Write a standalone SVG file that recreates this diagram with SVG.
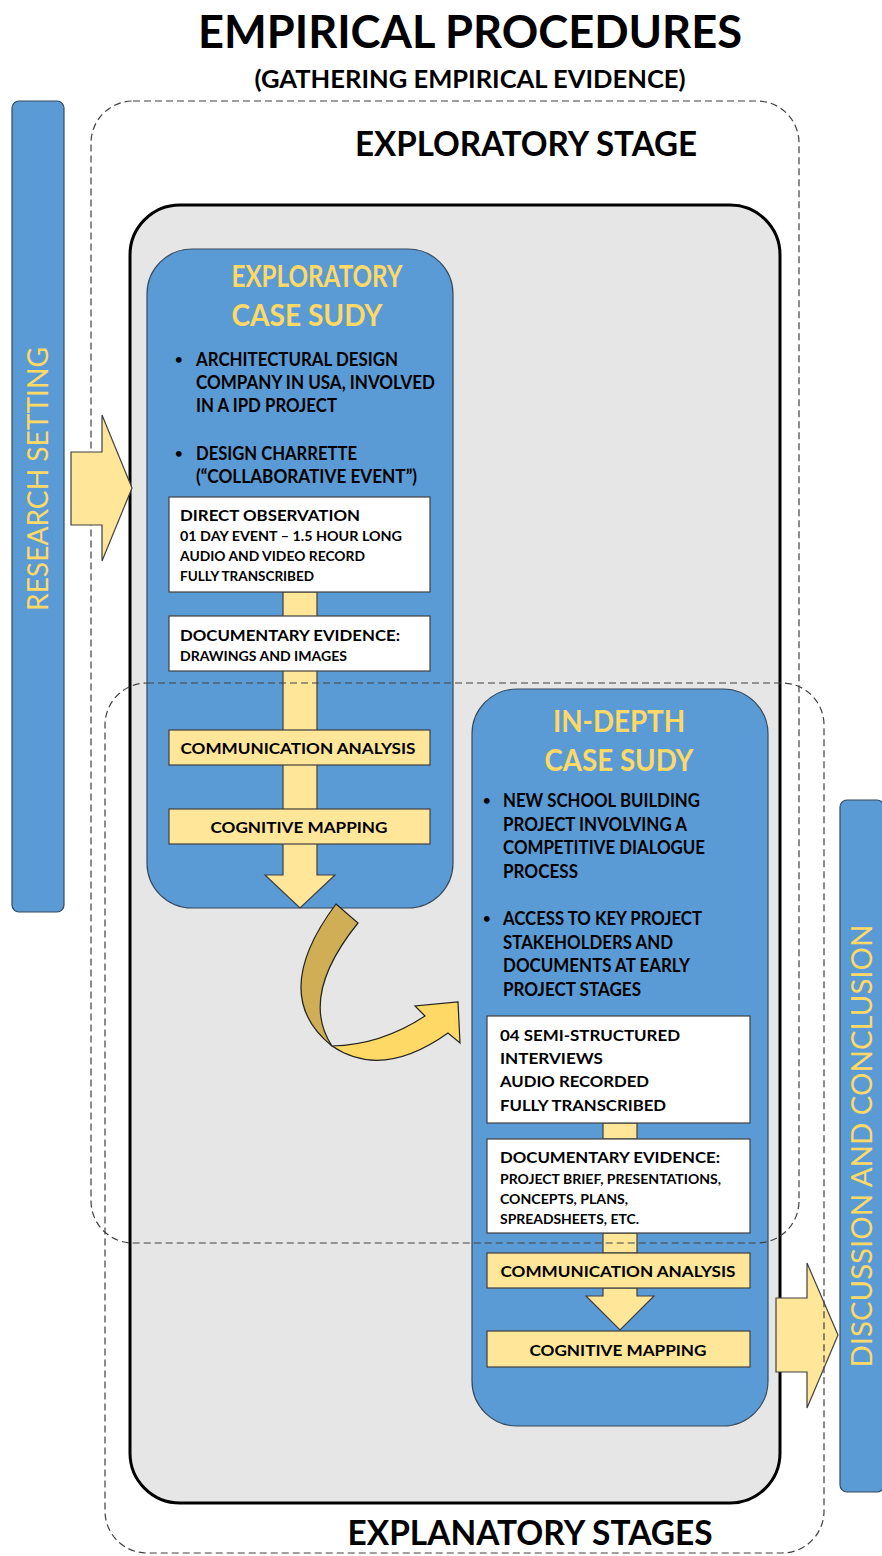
<svg xmlns="http://www.w3.org/2000/svg" width="882" height="1556" viewBox="0 0 882 1556">
  <defs>
    <style>
      text { font-family: Lato, "Liberation Sans", sans-serif; font-weight: bold; fill: #000; }
      .title { font-size: 46px; }
      .sub { font-size: 25px; }
      .stage { font-size: 35px; }
      .case { font-size: 30px; fill: #FFD966; }
      .bul { font-size: 18px; }
      .dot { font-size: 13px; }
      .hd { font-size: 16px; }
      .sm { font-size: 13.5px; }
      .side { font-size: 28px; font-weight: normal; fill: #FFD966; }
      .blue { fill: #5B9BD5; stroke: #34495E; stroke-width: 1.2; }
      .white { fill: #FFFFFF; stroke: #404040; stroke-width: 1.2; }
      .yel { fill: #FFE699; stroke: #404040; stroke-width: 1.2; }
      .dash { fill: none; stroke: #404040; stroke-width: 1.2; stroke-dasharray: 7 4; }
    </style>
  </defs>

  <rect width="882" height="1556" fill="#FFFFFF"/>

  <!-- headings -->
  <g id="heading">
    <text class="title" x="470" y="48" text-anchor="middle" textLength="544" lengthAdjust="spacingAndGlyphs">EMPIRICAL PROCEDURES</text>
    <text class="sub" x="470" y="88" text-anchor="middle" textLength="431" lengthAdjust="spacingAndGlyphs">(GATHERING EMPIRICAL EVIDENCE)</text>
  </g>

  <!-- side bars -->
  <g id="research-setting">
    <rect class="blue" x="12" y="101" width="52" height="811" rx="7"/>
    <text class="side" transform="translate(48,479) rotate(-90)" text-anchor="middle" textLength="264" lengthAdjust="spacingAndGlyphs">RESEARCH SETTING</text>
  </g>
  <g id="discussion-conclusion">
    <rect class="blue" x="840" y="800" width="44" height="692" rx="7"/>
    <text class="side" transform="translate(872,1146) rotate(-90)" text-anchor="middle" textLength="443" lengthAdjust="spacingAndGlyphs">DISCUSSION AND CONCLUSION</text>
  </g>

  <!-- stage container -->
  <g id="stage-container">
    <rect x="130" y="205" width="650" height="1298" rx="50" fill="#E6E6E6" stroke="#000" stroke-width="3"/>
  </g>

  <!-- exploratory case study -->
  <g id="exploratory-case">
    <rect class="blue" x="147" y="249" width="306" height="659" rx="45"/>
    <text class="case" x="317" y="287" text-anchor="middle" textLength="171" lengthAdjust="spacingAndGlyphs">EXPLORATORY</text>
    <text class="case" x="307" y="326" text-anchor="middle" textLength="151" lengthAdjust="spacingAndGlyphs">CASE SUDY</text>
    <text class="dot" x="175" y="364">•</text>
    <text class="bul" x="196" y="366" textLength="202" lengthAdjust="spacingAndGlyphs">ARCHITECTURAL DESIGN</text>
    <text class="bul" x="196" y="389" textLength="239" lengthAdjust="spacingAndGlyphs">COMPANY IN USA, INVOLVED</text>
    <text class="bul" x="196" y="412" textLength="141" lengthAdjust="spacingAndGlyphs">IN A IPD PROJECT</text>
    <text class="dot" x="175" y="458">•</text>
    <text class="bul" x="196" y="460" textLength="161" lengthAdjust="spacingAndGlyphs">DESIGN CHARRETTE</text>
    <text class="bul" x="196" y="483" textLength="221" lengthAdjust="spacingAndGlyphs">(“COLLABORATIVE EVENT”)</text>
  </g>

  <!-- in-depth case study -->
  <g id="in-depth-case">
    <rect class="blue" x="472" y="689" width="296" height="737" rx="45"/>
    <text class="case" x="619" y="732" text-anchor="middle" textLength="132" lengthAdjust="spacingAndGlyphs">IN-DEPTH</text>
    <text class="case" x="619" y="771" text-anchor="middle" textLength="149" lengthAdjust="spacingAndGlyphs">CASE SUDY</text>
    <text class="dot" x="483" y="805">•</text>
    <text class="bul" x="503" y="807" textLength="197" lengthAdjust="spacingAndGlyphs">NEW SCHOOL BUILDING</text>
    <text class="bul" x="503" y="831" textLength="184" lengthAdjust="spacingAndGlyphs">PROJECT INVOLVING A</text>
    <text class="bul" x="503" y="854" textLength="202" lengthAdjust="spacingAndGlyphs">COMPETITIVE DIALOGUE</text>
    <text class="bul" x="503" y="878" textLength="75" lengthAdjust="spacingAndGlyphs">PROCESS</text>
    <text class="dot" x="483" y="923">•</text>
    <text class="bul" x="503" y="925" textLength="199" lengthAdjust="spacingAndGlyphs">ACCESS TO KEY PROJECT</text>
    <text class="bul" x="503" y="949" textLength="170" lengthAdjust="spacingAndGlyphs">STAKEHOLDERS AND</text>
    <text class="bul" x="503" y="972" textLength="187" lengthAdjust="spacingAndGlyphs">DOCUMENTS AT EARLY</text>
    <text class="bul" x="503" y="996" textLength="138" lengthAdjust="spacingAndGlyphs">PROJECT STAGES</text>
  </g>

  <!-- flow connectors -->
  <g id="connectors">
    <!-- exploratory flow: shaft and head -->
    <path class="yel" d="M283,592 L317,592 L317,875 L335,875 L300,908 L265,875 L283,875 Z"/>
    <!-- in-depth flow -->
    <rect class="yel" x="603" y="1123" width="34" height="16"/>
    <rect class="yel" x="603" y="1233" width="34" height="20"/>
    <path class="yel" d="M603,1288 L637,1288 L637,1296 L654,1296 L620,1330 L586,1296 L603,1296 Z"/>
    <!-- twisted transition arrow between case studies -->
    <path d="M336,904 L358,923 Q299,996 332,1046 Q268,995 336,904 Z" fill="#CFAE55" stroke="#222" stroke-width="1.2"/>
    <path d="M332,1046 Q381,1045 425,1016 L415,1006 L458,1002 L460,1043 L448,1033 Q382,1080 332,1046 Z" fill="#FFD966" stroke="#222" stroke-width="1.2"/>
    <!-- into discussion -->
    <path class="yel" d="M776,1298 L807,1298 L807,1263 L838,1335 L807,1408 L807,1372 L776,1372 Z"/>
  </g>

  <!-- exploratory evidence boxes -->
  <g id="direct-observation">
    <rect class="white" x="169" y="497" width="261" height="95"/>
    <text class="hd" x="180" y="521" textLength="180" lengthAdjust="spacingAndGlyphs">DIRECT OBSERVATION</text>
    <text class="sm" x="180" y="541" textLength="222" lengthAdjust="spacingAndGlyphs">01 DAY EVENT – 1.5 HOUR LONG</text>
    <text class="sm" x="180" y="561" textLength="185" lengthAdjust="spacingAndGlyphs">AUDIO AND VIDEO RECORD</text>
    <text class="sm" x="180" y="581" textLength="134" lengthAdjust="spacingAndGlyphs">FULLY TRANSCRIBED</text>
  </g>
  <g id="documentary-evidence-1">
    <rect class="white" x="169" y="616" width="261" height="55"/>
    <text class="hd" x="180" y="641" textLength="220" lengthAdjust="spacingAndGlyphs">DOCUMENTARY EVIDENCE:</text>
    <text class="sm" x="180" y="661" textLength="167" lengthAdjust="spacingAndGlyphs">DRAWINGS AND IMAGES</text>
  </g>
  <g id="communication-analysis-1">
    <rect class="yel" x="169" y="730" width="261" height="35"/>
    <text class="hd" x="298" y="754" text-anchor="middle" textLength="235" lengthAdjust="spacingAndGlyphs">COMMUNICATION ANALYSIS</text>
  </g>
  <g id="cognitive-mapping-1">
    <rect class="yel" x="169" y="809" width="261" height="35"/>
    <text class="hd" x="299" y="833" text-anchor="middle" textLength="177" lengthAdjust="spacingAndGlyphs">COGNITIVE MAPPING</text>
  </g>

  <!-- in-depth evidence boxes -->
  <g id="interviews">
    <rect class="white" x="487" y="1016" width="263" height="107"/>
    <text class="hd" x="500" y="1041" textLength="180" lengthAdjust="spacingAndGlyphs">04 SEMI-STRUCTURED</text>
    <text class="hd" x="500" y="1064" textLength="103" lengthAdjust="spacingAndGlyphs">INTERVIEWS</text>
    <text class="hd" x="500" y="1087" textLength="149" lengthAdjust="spacingAndGlyphs">AUDIO RECORDED</text>
    <text class="hd" x="500" y="1111" textLength="166" lengthAdjust="spacingAndGlyphs">FULLY TRANSCRIBED</text>
  </g>
  <g id="documentary-evidence-2">
    <rect class="white" x="487" y="1139" width="263" height="94"/>
    <text class="hd" x="500" y="1163" textLength="220" lengthAdjust="spacingAndGlyphs">DOCUMENTARY EVIDENCE:</text>
    <text class="sm" x="500" y="1184" textLength="221" lengthAdjust="spacingAndGlyphs">PROJECT BRIEF, PRESENTATIONS,</text>
    <text class="sm" x="500" y="1204" textLength="128" lengthAdjust="spacingAndGlyphs">CONCEPTS, PLANS,</text>
    <text class="sm" x="500" y="1224" textLength="139" lengthAdjust="spacingAndGlyphs">SPREADSHEETS, ETC.</text>
  </g>
  <g id="communication-analysis-2">
    <rect class="yel" x="487" y="1253" width="263" height="35"/>
    <text class="hd" x="618" y="1277" text-anchor="middle" textLength="235" lengthAdjust="spacingAndGlyphs">COMMUNICATION ANALYSIS</text>
  </g>
  <g id="cognitive-mapping-2">
    <rect class="yel" x="487" y="1331" width="263" height="36"/>
    <text class="hd" x="618" y="1356" text-anchor="middle" textLength="177" lengthAdjust="spacingAndGlyphs">COGNITIVE MAPPING</text>
  </g>

  <!-- stage boundaries -->
  <g id="exploratory-stage">
    <rect class="dash" x="91" y="101" width="708" height="1142" rx="42"/>
    <text class="stage" x="526" y="156" text-anchor="middle" textLength="342" lengthAdjust="spacingAndGlyphs">EXPLORATORY STAGE</text>
  </g>
  <g id="explanatory-stages">
    <rect class="dash" x="105" y="683" width="719" height="870" rx="42"/>
    <text class="stage" x="530" y="1545" text-anchor="middle" textLength="365" lengthAdjust="spacingAndGlyphs">EXPLANATORY STAGES</text>
  </g>

  <!-- entry arrow from research setting -->
  <g id="entry-arrow">
    <path class="yel" d="M71,452 L102,452 L102,415 L132,488 L102,561 L102,525 L71,525 Z"/>
  </g>
</svg>
